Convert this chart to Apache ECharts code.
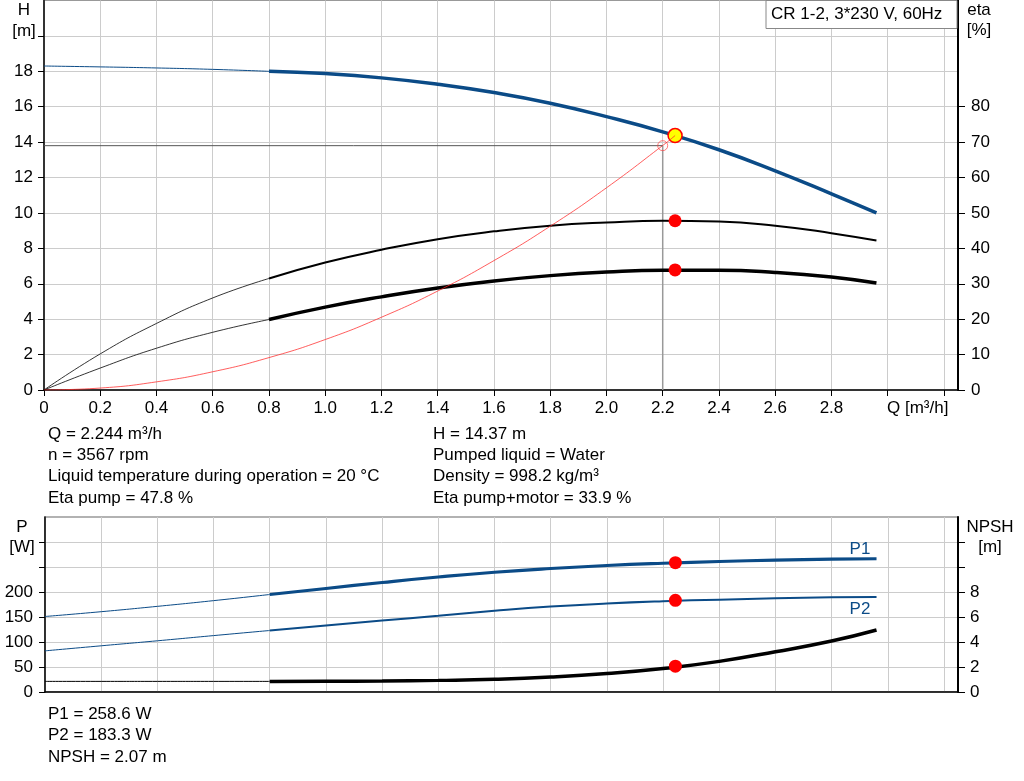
<!DOCTYPE html>
<html>
<head>
<meta charset="utf-8">
<script src="https://cdn.jsdelivr.net/npm/echarts@6/dist/echarts.min.js"></script>
<style>
  html, body { margin: 0; padding: 0; background: #fff; }
  #chart { width: 1024px; height: 781px; }
</style>
</head>
<body>
<div id="chart"></div>
<script>
// ---------- data ----------
const qPoints      = [0, 0.2, 0.4, 0.6, 0.8, 1.0, 1.2, 1.4, 1.6, 1.8, 2.0, 2.2, 2.4, 2.6, 2.8, 2.96];
const headH        = [18.3, 18.25, 18.19, 18.11, 18.0, 17.87, 17.63, 17.27, 16.8, 16.2, 15.44, 14.58, 13.57, 12.38, 11.08, 10.0];
const etaPump      = [0, 10.2, 18.8, 26.0, 31.5, 36.0, 39.6, 42.6, 44.8, 46.4, 47.3, 47.8, 47.6, 46.4, 44.3, 42.2];
const etaPumpMotor = [0, 6.2, 11.8, 16.3, 19.9, 23.4, 26.3, 28.8, 30.8, 32.3, 33.3, 33.8, 33.8, 33.2, 31.9, 30.2];
const powerP1      = [151, 160.6, 171.3, 182.7, 195, 207, 219, 230, 239.5, 247, 253, 257.5, 261, 263.7, 265.7, 266.5];
const powerP2      = [82.3, 92.4, 102.4, 112.8, 123, 133, 142.8, 152.6, 162.4, 170.8, 177, 181.5, 184.7, 187.3, 189.3, 190];
const npshValues   = [0.85, 0.85, 0.85, 0.85, 0.85, 0.86, 0.88, 0.93, 1.02, 1.2, 1.48, 1.88, 2.45, 3.22, 4.08, 4.96];
const thinEndIndex = 4; // curves are drawn thin up to Q = 0.8

const qSystem      = [0, 0.2, 0.4, 0.6, 0.8, 1.0, 1.2, 1.4, 1.6, 1.8, 2.0, 2.2, 2.244];
const headSystem   = [0, 0.11, 0.46, 1.03, 1.83, 2.85, 4.11, 5.59, 7.31, 9.25, 11.42, 13.81, 14.37];

const dutyQ = 2.244, dutyH = 14.37, dutyEtaPump = 47.8, dutyEtaPM = 33.9;
const dutyP1 = 258.6, dutyP2 = 183.3, dutyNPSH = 2.07;
const refQ = 2.2, refH = 13.8;

const xTickLabels    = ['0', '0.2', '0.4', '0.6', '0.8', '1.0', '1.2', '1.4', '1.6', '1.8', '2.0', '2.2', '2.4', '2.6', '2.8'];
const hTicks         = [0, 2, 4, 6, 8, 10, 12, 14, 16, 18, 20];
const hTickLabels    = [0, 2, 4, 6, 8, 10, 12, 14, 16, 18];
const etaTickLabels  = [0, 10, 20, 30, 40, 50, 60, 70, 80];
const pTicks         = [0, 50, 100, 150, 200, 250, 300];
const pTickLabels    = [0, 50, 100, 150, 200];
const npshTicks      = [0, 2, 4, 6, 8, 10, 12];
const npshTickLabels = [0, 2, 4, 6, 8];

const infoLeft  = ['Q = 2.244 m³/h', 'n = 3567 rpm', 'Liquid temperature during operation = 20 °C', 'Eta pump = 47.8 %'];
const infoRight = ['H = 14.37 m', 'Pumped liquid = Water', 'Density = 998.2 kg/m³', 'Eta pump+motor = 33.9 %'];
const infoBottom = ['P1 = 258.6 W', 'P2 = 183.3 W', 'NPSH = 2.07 m'];
const titleText = 'CR 1-2, 3*230 V, 60Hz';

// ---------- helpers ----------
const FONT = '"Liberation Sans", Arial, sans-serif';
const FS = 17;
const BLUE = '#0b4b87';
function pairs(xs, ys, from, to) {
  const out = [];
  for (let i = from; i <= to; i++) out.push([xs[i], ys[i]]);
  return out;
}
const last = qPoints.length - 1;

function curve(name, xi, yi, ys, color, thinW, thickW) {
  const common = { type: 'line', xAxisIndex: xi, yAxisIndex: yi, smooth: 0.5, showSymbol: false };
  return [
    Object.assign({ name: name + ' thin', data: pairs(qPoints, ys, 0, thinEndIndex), lineStyle: { color: color, width: thinW }, z: 3 }, common),
    Object.assign({ name: name, data: pairs(qPoints, ys, thinEndIndex, last), lineStyle: { color: color, width: thickW }, z: 4 }, common)
  ];
}
function dot(xi, yi, x, y, fill, border, size) {
  return { type: 'scatter', xAxisIndex: xi, yAxisIndex: yi, data: [[x, y]], symbolSize: size,
    itemStyle: { color: fill, borderColor: border || fill, borderWidth: border ? 1.5 : 0, opacity: 1 }, z: 10 };
}
function textEl(str, x, y, opts) {
  opts = opts || {};
  return { type: 'text', z: 100, style: { text: str, x: x, y: y, font: (opts.size || FS) + 'px ' + FONT,
    fill: opts.color || '#000', textAlign: opts.align || 'left', align: opts.align || 'left',
    textVerticalAlign: 'middle', verticalAlign: 'middle' } };
}

const axisLabelStyle = { color: '#000', fontSize: FS, fontFamily: FONT };
const gridLine = { show: true, lineStyle: { color: '#cccccc', width: 1 } };
const blackAxis = { show: true, lineStyle: { color: '#000', width: 1.5 } };

// ---------- graphics (texts) ----------
const graphics = [];
graphics.push({ type: 'rect', z: 90, shape: { x: 766, y: 0.5, width: 191, height: 28 },
  style: { fill: '#fff', stroke: '#888', lineWidth: 1 } });
graphics.push(textEl(titleText, 771, 14));
graphics.push(textEl('H', 24, 10, { align: 'center' }));
graphics.push(textEl('[m]', 24, 31, { align: 'center' }));
graphics.push(textEl('eta', 979, 10, { align: 'center' }));
graphics.push(textEl('[%]', 979, 30, { align: 'center' }));
graphics.push(textEl('Q [m³/h]', 887, 408));
graphics.push(textEl('P', 22, 527, { align: 'center' }));
graphics.push(textEl('[W]', 22, 547, { align: 'center' }));
graphics.push(textEl('NPSH', 990, 527, { align: 'center' }));
graphics.push(textEl('[m]', 990, 547, { align: 'center' }));
graphics.push(textEl('P1', 860, 549, { align: 'center', color: BLUE }));
graphics.push(textEl('P2', 860, 609, { align: 'center', color: BLUE }));
infoLeft.forEach((t, i) => graphics.push(textEl(t, 48, 434 + i * 21.4)));
infoRight.forEach((t, i) => graphics.push(textEl(t, 433, 434 + i * 21.4)));
infoBottom.forEach((t, i) => graphics.push(textEl(t, 48, 714 + i * 21.5)));

// ---------- chart ----------
const chart = echarts.init(document.getElementById('chart'), null, { renderer: 'canvas' });
const xFmt = v => { const s = v === 0 ? '0' : (Math.round(v * 10) / 10).toFixed(1); return xTickLabels.includes(s) && v < 2.9 ? s : ''; };

const option = {
  animation: false,
  backgroundColor: '#fff',
  grid: [
    { left: 44, right: 66, top: 0.5, bottom: 391, show: true, borderColor: '#999', borderWidth: 1, backgroundColor: 'transparent' },
    { left: 45, right: 66, top: 517, bottom: 89, show: true, borderColor: '#999', borderWidth: 1.5, backgroundColor: 'transparent' }
  ],
  xAxis: [
    { type: 'value', gridIndex: 0, min: 0, max: 3.25, interval: 0.2,
      axisLine: blackAxis, axisTick: { show: true, length: 6, lineStyle: { color: '#000' } },
      axisLabel: Object.assign({ margin: 10, formatter: xFmt, showMaxLabel: false }, axisLabelStyle),
      splitLine: gridLine },
    { type: 'value', gridIndex: 1, min: 0, max: 3.25, interval: 0.2,
      axisLine: blackAxis, axisTick: { show: false }, axisLabel: { show: false },
      splitLine: gridLine }
  ],
  yAxis: [
    { type: 'value', gridIndex: 0, min: 0, max: 22, interval: 2, position: 'left',
      axisLine: blackAxis,
      axisTick: { show: true, length: 6, lineStyle: { color: '#000' }, customValues: hTicks },
      axisLabel: Object.assign({ margin: 11, customValues: hTickLabels,
        formatter: v => hTickLabels.includes(v) ? String(v) : '' }, axisLabelStyle),
      splitLine: gridLine },
    { type: 'value', gridIndex: 0, min: 0, max: 110, interval: 10, position: 'right',
      axisLine: { show: true, lineStyle: { color: '#000', width: 2 } },
      axisTick: { show: true, length: 7, lineStyle: { color: '#000' }, customValues: etaTickLabels },
      axisLabel: Object.assign({ margin: 13, customValues: etaTickLabels,
        formatter: v => etaTickLabels.includes(v) ? String(v) : '' }, axisLabelStyle),
      splitLine: { show: false } },
    { type: 'value', gridIndex: 1, min: 0, max: 350, interval: 50, position: 'left',
      axisLine: blackAxis,
      axisTick: { show: true, length: 6, lineStyle: { color: '#000' }, customValues: pTicks },
      axisLabel: Object.assign({ margin: 12, customValues: pTickLabels,
        formatter: v => pTickLabels.includes(v) ? String(v) : '' }, axisLabelStyle),
      splitLine: gridLine },
    { type: 'value', gridIndex: 1, min: 0, max: 14, interval: 2, position: 'right',
      axisLine: { show: true, lineStyle: { color: '#000', width: 2 } },
      axisTick: { show: true, length: 7, lineStyle: { color: '#000' }, customValues: npshTicks },
      axisLabel: Object.assign({ margin: 12, customValues: npshTickLabels,
        formatter: v => npshTickLabels.includes(v) ? String(v) : '' }, axisLabelStyle),
      splitLine: { show: false } }
  ],
  graphic: { elements: graphics },
  series: [
    // system curve and reference crosshair
    { type: 'line', xAxisIndex: 0, yAxisIndex: 0, smooth: 0.5, showSymbol: false,
      data: pairs(qSystem, headSystem, 0, qSystem.length - 1),
      lineStyle: { color: 'rgba(255,40,40,0.75)', width: 1 }, z: 11 },
    { type: 'line', xAxisIndex: 0, yAxisIndex: 0, showSymbol: false,
      data: [[0, refH], [refQ, refH]], lineStyle: { color: '#555', width: 1 }, z: 2 },
    { type: 'line', xAxisIndex: 0, yAxisIndex: 0, showSymbol: false,
      data: [[refQ, refH], [refQ, 0]], lineStyle: { color: '#999', width: 1.5 }, z: 2 },
    { type: 'scatter', xAxisIndex: 0, yAxisIndex: 0, data: [[refQ, refH]], symbolSize: 10,
      itemStyle: { color: 'rgba(255,255,255,0)', borderColor: 'rgba(255,60,60,0.85)', borderWidth: 1 }, z: 9 },
    ...curve('H', 0, 0, headH, BLUE, 1, 3.5),
    ...curve('Eta pump', 0, 1, etaPump, '#000', 0.8, 2),
    ...curve('Eta pump+motor', 0, 1, etaPumpMotor, '#000', 0.8, 3.5),
    ...curve('P1', 1, 2, powerP1, BLUE, 1, 3.2),
    ...curve('P2', 1, 2, powerP2, BLUE, 1, 2),
    ...curve('NPSH', 1, 3, npshValues, '#000', 1, 3.5),
    dot(0, 0, dutyQ, dutyH, '#ffff00', '#ff0000', 14),
    dot(0, 1, dutyQ, dutyEtaPump, '#ff0000', null, 13),
    dot(0, 1, dutyQ, dutyEtaPM, '#ff0000', null, 13),
    dot(1, 2, dutyQ, dutyP1, '#ff0000', null, 13),
    dot(1, 2, dutyQ, dutyP2, '#ff0000', null, 13),
    dot(1, 3, dutyQ, dutyNPSH, '#ff0000', null, 13)
  ]
};
chart.setOption(option);
</script>
</body>
</html>
